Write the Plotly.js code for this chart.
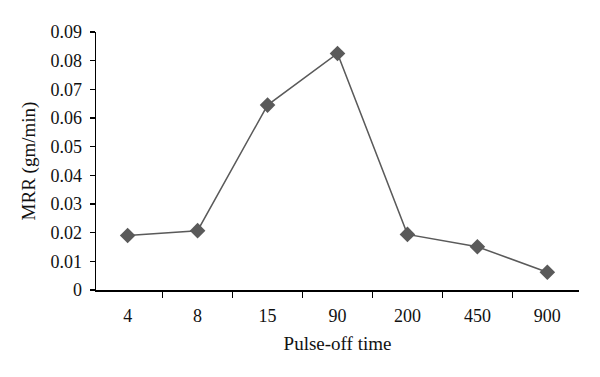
<!DOCTYPE html>
<html>
<head>
<meta charset="utf-8">
<script src="https://cdn.plot.ly/plotly-3.0.1.min.js"></script>
<style>html,body{margin:0;padding:0;background:#fff;}#chart{width:600px;height:377px;}</style>
</head>
<body>
<div id="chart"></div>
<script>
const categories = ["4", "8", "15", "90", "200", "450", "900"];
const mrr = [0.019, 0.0207, 0.0645, 0.0825, 0.0194, 0.0151, 0.0062];
const yTicks = [0, 0.01, 0.02, 0.03, 0.04, 0.05, 0.06, 0.07, 0.08, 0.09];
const yTickText = ["0", "0.01", "0.02", "0.03", "0.04", "0.05", "0.06", "0.07", "0.08", "0.09"];

const font = {family: "Liberation Serif, Times New Roman, serif", size: 18, color: "#111"};
const titleFont = {family: "Liberation Serif, Times New Roman, serif", size: 19, color: "#111"};

Plotly.newPlot("chart", [{
  x: categories,
  y: mrr,
  type: "scatter",
  mode: "lines+markers",
  line: {color: "#5a5a5a", width: 1.5},
  marker: {symbol: "diamond", size: 12, color: "#5a5a5a"}
}], {
  width: 600, height: 377,
  margin: {l: 96, r: 21, t: 32, b: 87},
  paper_bgcolor: "#fff", plot_bgcolor: "#fff",
  showlegend: false,
  font: font,
  xaxis: {
    type: "category",
    tickson: "boundaries",
    ticks: "outside", ticklen: 6, tickwidth: 1.5, tickcolor: "#000",
    showline: true, linecolor: "#000", linewidth: 1.5,
    showgrid: false, zeroline: false,
    tickfont: font,
    ticklabelstandoff: 9,
    title: {text: "Pulse-off time", font: titleFont, standoff: 11}
  },
  yaxis: {
    range: [0, 0.09],
    tickvals: yTicks, ticktext: yTickText,
    ticks: "outside", ticklen: 5, tickwidth: 1.5, tickcolor: "#000",
    showline: true, linecolor: "#000", linewidth: 1.5,
    showgrid: false, zeroline: false,
    tickfont: font,
    ticklabelstandoff: 4,
    title: {text: "MRR (gm/min)", font: titleFont, standoff: 10}
  }
}, {staticPlot: true});
</script>
</body>
</html>
